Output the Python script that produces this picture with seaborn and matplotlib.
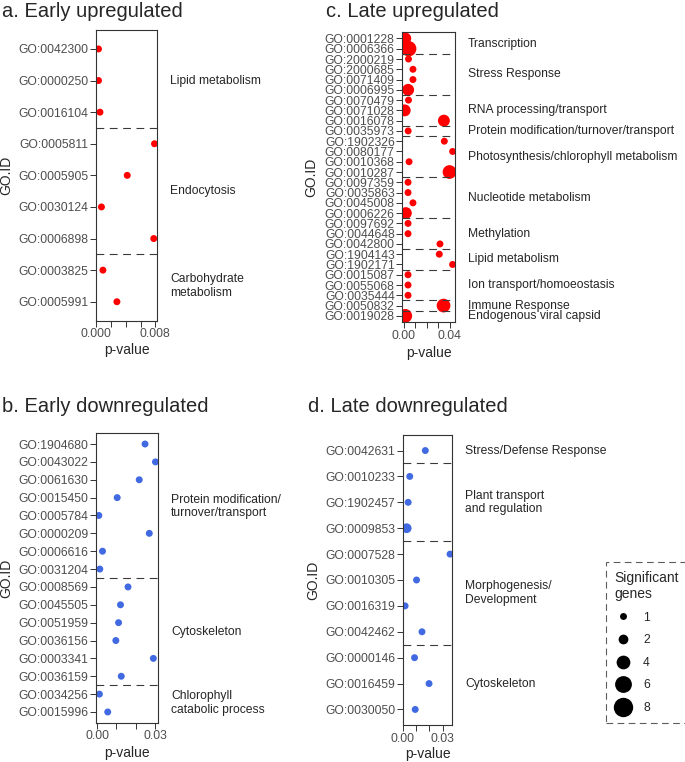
import numpy as np
import pandas as pd
import matplotlib
matplotlib.use('Agg')
import matplotlib.pyplot as plt
from matplotlib.lines import Line2D
import seaborn as sns

# a. Early upregulated
a_ids = ['GO:0042300', 'GO:0000250', 'GO:0016104', 'GO:0005811', 'GO:0005905',
         'GO:0030124', 'GO:0006898', 'GO:0003825', 'GO:0005991']
a_pval = [0.0003, 0.0003, 0.0005, 0.0079, 0.0042, 0.0007, 0.0078, 0.0009, 0.0028]
a_genes = [1, 1, 1, 1, 1, 1, 1, 1, 1]
a_groups = ['Lipid metabolism', 'Endocytosis', 'Carbohydrate\nmetabolism']
a_counts = [3, 4, 2]

# b. Early downregulated
b_ids = ['GO:1904680', 'GO:0043022', 'GO:0061630', 'GO:0015450', 'GO:0005784',
         'GO:0000209', 'GO:0006616', 'GO:0031204', 'GO:0008569', 'GO:0045505',
         'GO:0051959', 'GO:0036156', 'GO:0003341', 'GO:0036159', 'GO:0034256',
         'GO:0015996']
b_pval = [0.0248, 0.0302, 0.0218, 0.0104, 0.0009, 0.0270, 0.0028, 0.0014,
          0.0160, 0.0121, 0.0111, 0.0097, 0.0291, 0.0125, 0.0012, 0.0055]
b_genes = [1] * 16
b_groups = ['Protein modification/\nturnover/transport', 'Cytoskeleton',
            'Chlorophyll\ncatabolic process']
b_counts = [8, 6, 2]

# c. Late upregulated
c_ids = ['GO:0001228', 'GO:0006366', 'GO:2000219', 'GO:2000685', 'GO:0071409',
         'GO:0006995', 'GO:0070479', 'GO:0071028', 'GO:0016078', 'GO:0035973',
         'GO:1902326', 'GO:0080177', 'GO:0010368', 'GO:0010287', 'GO:0097359',
         'GO:0035863', 'GO:0045008', 'GO:0006226', 'GO:0097692', 'GO:0044648',
         'GO:0042800', 'GO:1904143', 'GO:1902171', 'GO:0015087', 'GO:0055068',
         'GO:0035444', 'GO:0050832', 'GO:0019028']
c_pval = [0.0015, 0.0045, 0.0043, 0.0082, 0.0082, 0.0040, 0.0043, 0.0010,
          0.0351, 0.0040, 0.0355, 0.0427, 0.0048, 0.0400, 0.0039, 0.0039,
          0.0082, 0.0020, 0.0039, 0.0039, 0.0317, 0.0311, 0.0427, 0.0039,
          0.0039, 0.0039, 0.0348, 0.0015]
c_genes = [3, 5, 1, 1, 1, 3, 1, 3, 3, 1, 1, 1, 1, 4, 1, 1, 1, 3, 1, 1,
           1, 1, 1, 1, 1, 1, 4, 4]
c_groups = ['Transcription', 'Stress Response', 'RNA processing/transport',
            'Protein modification/turnover/transport',
            'Photosynthesis/chlorophyll metabolism', 'Nucleotide metabolism',
            'Methylation', 'Lipid metabolism', 'Ion transport/homoeostasis',
            'Immune Response', 'Endogenous viral capsid']
c_counts = [2, 4, 3, 1, 4, 4, 3, 2, 3, 1, 1]

# d. Late downregulated
d_ids = ['GO:0042631', 'GO:0010233', 'GO:1902457', 'GO:0009853', 'GO:0007528',
         'GO:0010305', 'GO:0016319', 'GO:0042462', 'GO:0000146', 'GO:0016459',
         'GO:0030050']
d_pval = [0.0170, 0.0053, 0.0041, 0.0030, 0.0356, 0.0104, 0.0018, 0.0145,
          0.0089, 0.0198, 0.0094]
d_genes = [1, 1, 1, 2, 1, 1, 1, 1, 1, 1, 1]
d_groups = ['Stress/Defense Response', 'Plant transport\nand regulation',
            'Morphogenesis/\nDevelopment', 'Cytoskeleton']
d_counts = [1, 3, 4, 3]

legend_sizes = [1, 2, 4, 6, 8]

sns.set_style('ticks')
plt.rcParams['font.family'] = ['Liberation Sans', 'DejaVu Sans']

W, H = 685, 762
fig = plt.figure(figsize=(W / 100, H / 100), dpi=100)

RED = '#FF0000'
BLUE = '#4169E1'
size_range = (25, 195)


def area(n):
    return size_range[0] + (size_range[1] - size_range[0]) * (n - 1) / 7


def panel(rect, ids, pvals, genes, groups, counts, color, step, fmt,
          title, title_xy, ylab_x, xlab_y):
    l, t, r, b = rect
    ax = fig.add_axes([l / W, 1 - b / H, (r - l) / W, (b - t) / H])
    df = pd.DataFrame({'GO.ID': ids, 'p-value': pvals, 'genes': genes})
    sns.scatterplot(data=df, x='p-value', y='GO.ID', size='genes',
                    sizes=size_range, size_norm=(1, 8), color=color,
                    linewidth=0, legend=False, ax=ax)
    n = len(ids)
    ax.set_ylim(n - 0.4, -0.6)
    lo, hi = min(pvals), max(pvals)
    pad = (hi - lo) * 0.05
    ax.set_xlim(lo - pad, hi + pad)
    ticks = np.round(np.arange(0, hi + pad, step), 6)
    ax.set_xticks(ticks)
    ax.set_xticklabels([fmt.format(v) if i in (0, len(ticks) - 1) else ''
                        for i, v in enumerate(ticks)])

    # group separators and labels
    edges = np.cumsum(counts)
    for e in edges[:-1]:
        ax.axhline(e - 0.5, color='#3a3a3a', lw=0.8, ls=(0, (7, 5)))
    starts = edges - np.array(counts)
    for name, s, e in zip(groups, starts, edges):
        ax.annotate(name, xy=(1, (s + e - 1) / 2), xycoords=ax.get_yaxis_transform(),
                    xytext=(13, 0), textcoords='offset pixels', ha='left',
                    va='center', fontsize=8.7, linespacing=1.15,
                    annotation_clip=False)

    ax.tick_params(axis='both', length=4, width=0.7, color='#333333',
                   labelcolor='#4D4D4D', labelsize=8.7, pad=1.5)
    for sp in ax.spines.values():
        sp.set_color('#333333')
        sp.set_linewidth(0.8)
    ax.set_ylabel('GO.ID', fontsize=10, va='center')
    ax.yaxis.set_label_coords((ylab_x - l) / (r - l), 0.5)
    ax.set_xlabel('p-value', fontsize=10, va='center')
    ax.xaxis.set_label_coords(0.5, (b - xlab_y) / (b - t))
    fig.text(title_xy[0] / W, 1 - title_xy[1] / H, title, fontsize=14.5,
             ha='left', va='baseline')
    return ax


panel((95.7, 30, 157.3, 320.7), a_ids, a_pval, a_genes, a_groups, a_counts,
      RED, 0.002, '{:.3f}', 'a. Early upregulated', (2, 17), 6.7, 350)
panel((96, 433.3, 158.3, 722.7), b_ids, b_pval, b_genes, b_groups, b_counts,
      BLUE, 0.01, '{:.2f}', 'b. Early downregulated', (2, 411.7), 6.7, 752.7)
panel((402.3, 32.3, 455, 322), c_ids, c_pval, c_genes, c_groups, c_counts,
      RED, 0.01, '{:.2f}', 'c. Late upregulated', (325.5, 17), 311.7, 352.7)
panel((402.7, 435, 452.3, 725), d_ids, d_pval, d_genes, d_groups, d_counts,
      BLUE, 0.01, '{:.2f}', 'd. Late downregulated', (307.5, 411.7), 313.5, 754)

# size legend
handles = [Line2D([], [], ls='', marker='o', color='black', markeredgewidth=0,
                  markersize=np.sqrt(area(s))) for s in legend_sizes]
leg = fig.legend(handles, [str(s) for s in legend_sizes], title='Significant\ngenes',
                 loc='upper left', bbox_to_anchor=(605.7 / W, 1 - 561.7 / H),
                 fontsize=8.7, title_fontsize=10, alignment='left',
                 frameon=True, fancybox=False, borderpad=0.75, labelspacing=0.88,
                 handlelength=1.4, handletextpad=0.95, borderaxespad=0)
frame = leg.get_frame()
frame.set_linestyle((0, (6, 4)))
frame.set_edgecolor('#333333')
frame.set_linewidth(0.8)

fig.savefig('out.png', dpi=100)
